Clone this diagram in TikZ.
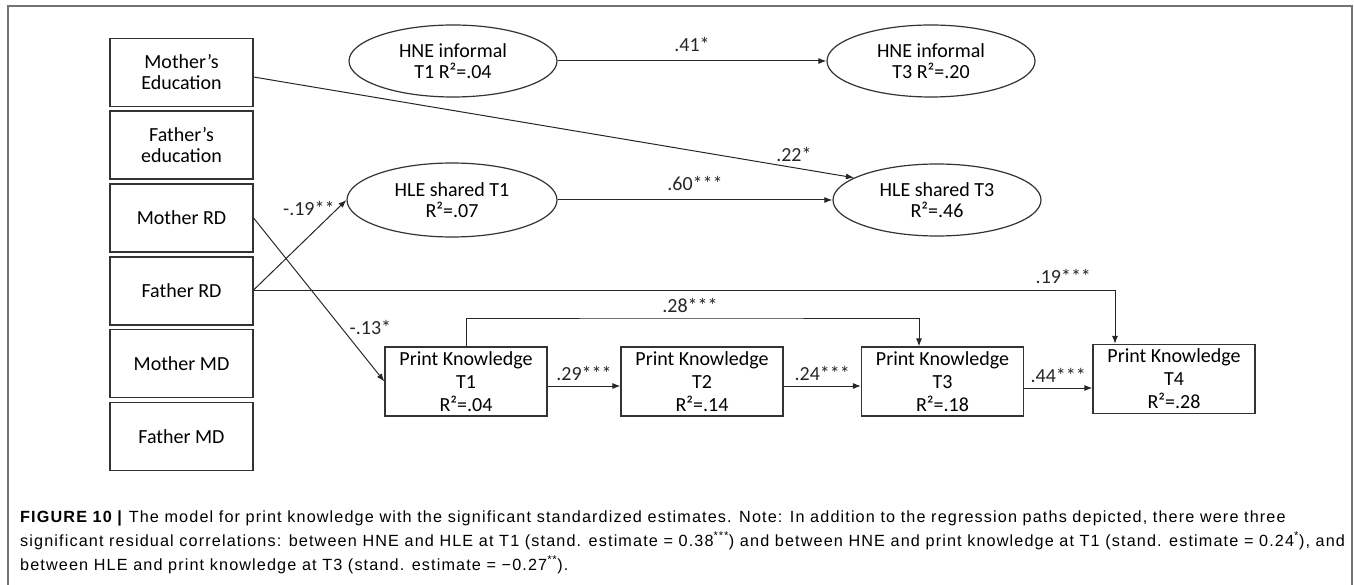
\documentclass[tikz,border=0pt]{standalone}
\usepackage{fontspec}
\setmainfont{Carlito}
\newfontfamily\capfont[LetterSpace=7]{Liberation Sans}
\usetikzlibrary{shapes.geometric}
\usetikzlibrary{arrows.meta}

\begin{document}
\begin{tikzpicture}[x=1pt,y=-1pt]
\par
\tikzstyle{var}=[draw=black!80,line width=1.2pt,minimum width=143pt,minimum height=68pt,inner sep=0pt,align=center,font=\fontsize{20}{21}\selectfont]
\tikzstyle{lat}=[draw=black!80,line width=1.2pt,ellipse,minimum width=208pt,minimum height=72pt,inner sep=0pt,align=center,font=\fontsize{20}{21}\selectfont]
\tikzstyle{pk}=[draw=black!80,line width=1.2pt,minimum width=162pt,minimum height=69pt,inner sep=0pt,align=center,font=\fontsize{20}{23}\selectfont]
\tikzstyle{est}=[->,>={Latex[length=8pt,width=6pt]},line width=1pt,black!85]
\tikzstyle{lab}=[font=\fontsize{20}{22}\selectfont,inner sep=0pt]
\tikzstyle{capline}=[anchor=base west,inner sep=0pt,font=\capfont\fontsize{16.2}{18}\selectfont]
\useasboundingbox (0,0) rectangle (1354,585);
\draw[black!55,line width=1.5pt] (8,585) -- (8,6) -- (1352,6) -- (1352,585);
\par
% left column
\node[var] (momedu) at (181.5,72.5) {Mother’s\\Education};
\node[var] (dadedu) at (181.5,145) {Father’s\\education};
\node[var] (momrd) at (181.5,218) {Mother RD};
\node[var] (dadrd) at (181.5,291) {Father RD};
\node[var] (mommd) at (181.5,363.5) {Mother MD};
\node[var] (dadmd) at (181.5,436.5) {Father MD};
\par
% home environment
\node[lat] (hne1) at (453,61) {HNE informal\\T1 R²=.04};
\node[lat] (hne3) at (931,61) {HNE informal\\T3 R²=.20};
\node[lat,minimum width=210pt,minimum height=74pt] (hle1) at (452,200) {HLE shared T1\\R²=.07};
\node[lat] (hle3) at (937,200) {HLE shared T3\\R²=.46};
\par
% print knowledge
\node[pk] (pk1) at (466,381.5) {Print Knowledge\\T1\\R²=.04};
\node[pk] (pk2) at (702,381.5) {Print Knowledge\\T2\\R²=.14};
\node[pk] (pk3) at (942.5,381.5) {Print Knowledge\\T3\\R²=.18};
\node[pk] (pk4) at (1174,379) {Print Knowledge\\T4\\R²=.28};
\par
\draw[est] (hne1) -- node[lab,above=9pt]{.41*} (hne3);
\draw[est] (hle1) -- node[lab,above=9pt]{.60***} (hle3);
\draw[est] (momedu.east |- 0,77) -- node[lab,pos=0.9,above=6pt]{.22*} (hle3.165);
\draw[est] (dadrd.east |- 0,290) -- node[lab,pos=0.91,left=3pt]{-.19**} (hle1.west);
\draw[est] (momrd.east) -- node[lab,pos=0.67,right=8pt]{-.13*} (pk1.west);
\draw[est] (dadrd.east |- 0,290) -| node[lab,pos=0.47,above=6pt]{.19***} (pk4.north -| 1115,0);
\draw[est] (pk1.north) |- (690,318) node[lab,above=5pt]{.28***} -| (pk3.north -| 919,0);
\draw[est] (pk1.east |- 0,386) -- node[lab,above=5pt]{.29***} (pk2.west |- 0,386);
\draw[est] (pk2.east |- 0,386) -- node[lab,above=5pt]{.24***} (pk3.west |- 0,386);
\draw[est] (pk3.east |- 0,388) -- node[lab,above=5pt]{.44***} (pk4.west |- 0,388);
\par
% caption
\node[capline] (cap1) at (20,522) {\textbf{FIGURE 10 |} The model for print knowledge with the significant standardized estimates. Note: In addition to the regression paths depicted, there were three};
\node[capline] (cap2) at (20,546) {significant residual correlations: between HNE and HLE at T1 (stand. estimate = 0.38\textsuperscript{***}) and between HNE and print knowledge at T1 (stand. estimate = 0.24\textsuperscript{*}), and};
\node[capline] (cap3) at (20,570) {between HLE and print knowledge at T3 (stand. estimate = −0.27\textsuperscript{**}).};
\par
\end{tikzpicture}
\end{document}
